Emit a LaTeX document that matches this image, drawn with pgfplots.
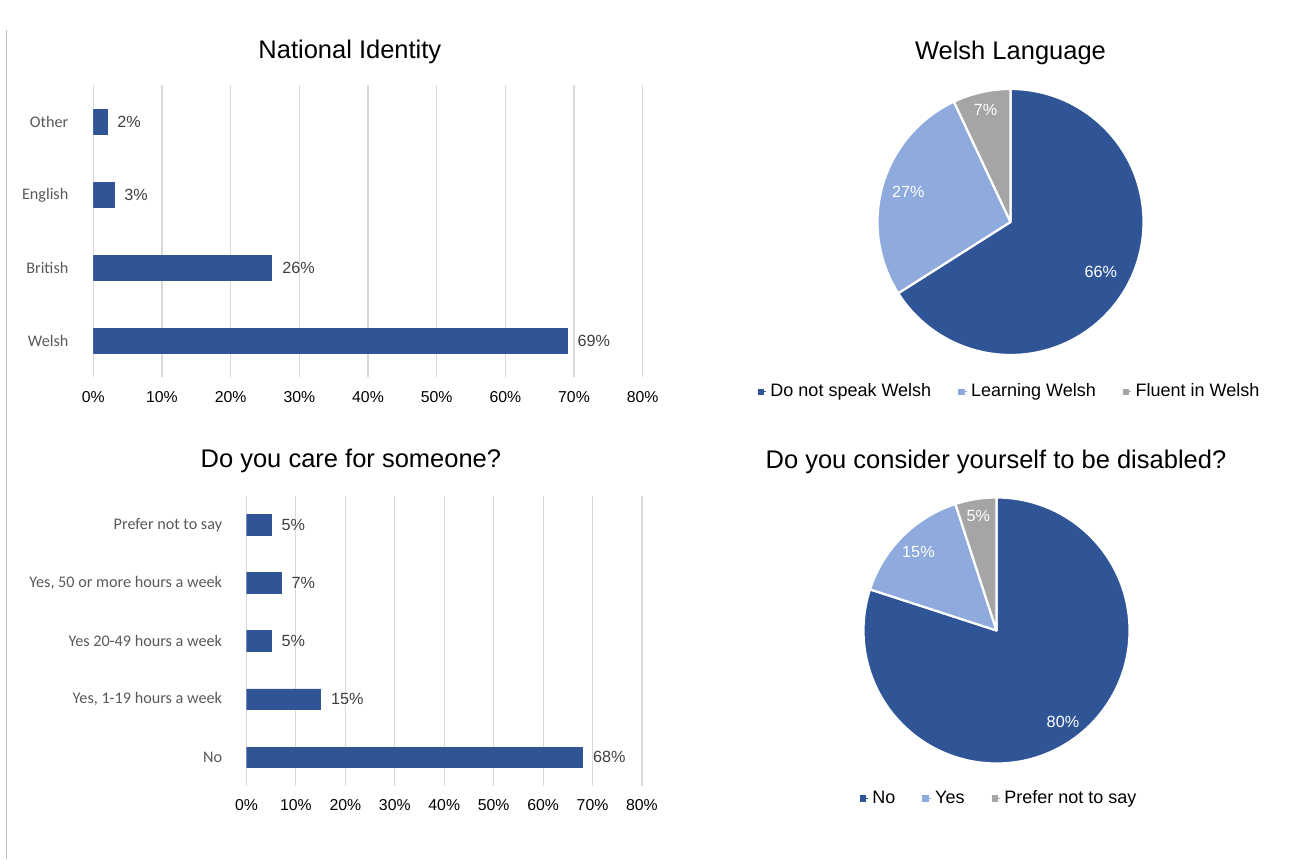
\documentclass[border=0pt]{standalone}
\usepackage{pgfplots}
\pgfplotsset{compat=1.18}
\usepackage{fontspec}
\setmainfont{Liberation Sans}
\newfontfamily\calibri{Carlito}
\definecolor{pieA}{HTML}{2F5597}
\definecolor{pieB}{HTML}{8FAADC}
\definecolor{pieC}{HTML}{A5A5A5}
\definecolor{gridgray}{HTML}{D9D9D9}
\definecolor{datagray}{HTML}{404040}
\definecolor{catgray}{HTML}{595959}
\pgfplotsset{/pgf/number format/assume math mode=true}
\newcommand{\pieslice}[3]{\fill[#1, draw=white, line width=1.1pt, line join=round] (axis cs:0,0) -- (axis cs:{cos(90-3.6*#2)},{sin(90-3.6*#2)}) arc[start angle={90-3.6*#2}, delta angle={-3.6*#3}, radius=66.5pt] -- cycle;}
\newcommand{\pielabel}[3]{\node[white, inner sep=0pt, font=\fontsize{8.1}{9.7}\selectfont] at (axis cs:{#1*cos(90-3.6*#2)},{#1*sin(90-3.6*#2)}) {#3};}
\pgfplotsset{
  barchart/.style={
    scale only axis, anchor=south west,
    xbar, xmin=0, xmax=80,
    axis line style={draw=none}, tick style={draw=none},
    xmajorgrids, ymajorgrids=false,
    major grid style={color=gridgray, line width=0.55pt},
    xtick={0,10,...,80},
    xticklabels={0\%,10\%,20\%,30\%,40\%,50\%,60\%,70\%,80\%},
    xticklabel style={font=\fontsize{7.9}{9.5}\selectfont, color=black, anchor=base, inner sep=0pt},
    yticklabel style={font=\calibri\fontsize{8.1}{9.7}\selectfont, color=catgray, anchor=east, inner sep=0pt},
    point meta=x,
    nodes near coords={\pgfmathprintnumber{\pgfplotspointmeta}\%},
    nodes near coords align={horizontal},
    every node near coord/.append style={font=\fontsize{8.1}{9.7}\selectfont, color=datagray, anchor=west, inner sep=0pt, xshift=5pt},
    title style={anchor=base, font=\fontsize{12.75}{15}\selectfont, inner sep=0pt},
  },
  piechart/.style={
    scale only axis, anchor=south west,
    width=133pt, height=133pt,
    xmin=-1, xmax=1, ymin=-1, ymax=1,
    hide axis, clip=false,
    title style={anchor=base, font=\fontsize{12.75}{15}\selectfont, inner sep=0pt},
    legend columns=3,
    legend image code/.code={\fill[##1] (0pt,-1.375pt) rectangle (2.75pt,1.375pt); \path (0pt,0pt) -- (4pt,0pt);},
    legend style={anchor=center, draw=none, fill=none, inner sep=0pt,
      font=\fontsize{9}{11}\selectfont,
      /tikz/every even column/.append style={column sep=11.5pt}},
  }
}
\begin{document}
\begin{tikzpicture}
\path (0,0) rectangle (645pt,429.5pt);
\draw[color=black!25, line width=0.5pt] (3.25pt,0pt) -- (3.25pt,414.5pt);

% National Identity
\begin{axis}[barchart,
  at={(46.65pt,240.75pt)}, width=274.7pt, height=146pt,
  ymin=-0.5, ymax=3.5, bar width=12.5pt,
  ytick={0,1,2,3}, yticklabels={Welsh,British,English,Other},
  xticklabel style={yshift=-12.45pt},
  yticklabel style={xshift=-8pt},
  title={National Identity}, title style={at={(0.467,1.052)}},
]
\addplot[fill=pieA, draw=pieA] coordinates {(69,0) (26,1) (3,2) (2,3)};
\end{axis}

% Do you care for someone?
\begin{axis}[barchart,
  at={(123.25pt,36.35pt)}, width=197.75pt, height=145.15pt,
  ymin=-0.5, ymax=4.5, bar width=10.25pt,
  ytick={0,1,2,3,4},
  yticklabels={No,{Yes, 1-19 hours a week},Yes 20-49 hours a week,{Yes, 50 or more hours a week},Prefer not to say},
  xticklabel style={yshift=-12.2pt},
  yticklabel style={xshift=-7.75pt},
  title={Do you care for someone?}, title style={at={(0.264,1.056)}},
]
\addplot[fill=pieA, draw=pieA] coordinates {(68,0) (15,1) (5,2) (7,3) (5,4)};
\end{axis}

% Welsh Language
\begin{axis}[piechart,
  at={(438.75pt,252pt)},
  title={Welsh Language}, title style={at={(0.5,1.064)}},
  legend style={at={(0.5,-0.138)}},
]
\addlegendimage{pieA}\addlegendentry{Do not speak Welsh}
\addlegendimage{pieB}\addlegendentry{Learning Welsh}
\addlegendimage{pieC}\addlegendentry{Fluent in Welsh}
\pieslice{pieA}{0}{66}
\pieslice{pieB}{66}{27}
\pieslice{pieC}{93}{7}
\pielabel{0.775}{33}{66\%}
\pielabel{0.80}{79.5}{27\%}
\pielabel{0.86}{96.5}{7\%}
\end{axis}

% Disabled
\begin{axis}[piechart,
  at={(431.75pt,47.75pt)},
  title={Do you consider yourself to be disabled?}, title style={at={(0.498,1.065)}},
  legend style={at={(0.513,-0.131)}},
]
\addlegendimage{pieA}\addlegendentry{No}
\addlegendimage{pieB}\addlegendentry{Yes}
\addlegendimage{pieC}\addlegendentry{Prefer not to say}
\pieslice{pieA}{0}{80}
\pieslice{pieB}{80}{15}
\pieslice{pieC}{95}{5}
\pielabel{0.85}{40}{80\%}
\pielabel{0.83}{87.5}{15\%}
\pielabel{0.87}{97.5}{5\%}
\end{axis}
\end{tikzpicture}
\end{document}
